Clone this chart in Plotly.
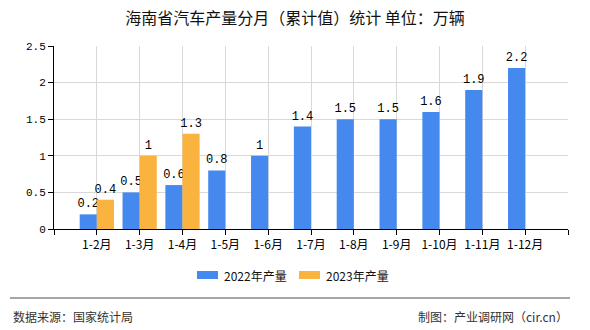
import plotly.graph_objects as go

categories = ["1-2月", "1-3月", "1-4月", "1-5月", "1-6月", "1-7月", "1-8月", "1-9月", "1-10月", "1-11月", "1-12月"]
values_2022 = [0.2, 0.5, 0.6, 0.8, 1, 1.4, 1.5, 1.5, 1.6, 1.9, 2.2]
values_2023 = [0.4, 1, 1.3]
series_names = ["2022年产量", "2023年产量"]
series_colors = ["#4589EF", "#FBB33F"]
y_ticks = [0, 0.5, 1, 1.5, 2, 2.5]

W, H = 590, 330
L, R, T, B = 54, 22, 46, 101
pw = W - L - R
ph = H - T - B

def px(xpix):
    return (xpix - L) / pw

def py(ypix):
    return (H - B - ypix) / ph

pos22 = list(range(1, len(values_2022) + 1))
pos23 = list(range(1, len(values_2023) + 1))

num_font = dict(family="Liberation Mono, DejaVu Sans Mono, monospace", size=12, color="#000")
tick_font = dict(family="Liberation Mono, DejaVu Sans Mono, monospace", size=11, color="#000")
cjk = "Noto Sans CJK SC, sans-serif"

fig = go.Figure()
fig.add_trace(go.Bar(
    x=pos22, y=values_2022, name=series_names[0], width=0.4, offset=-0.4,
    marker=dict(color=series_colors[0], line=dict(width=0)),
    text=[f"{v:g}" for v in values_2022], textposition="outside",
    textfont=num_font, cliponaxis=False, constraintext="none",
))
fig.add_trace(go.Bar(
    x=pos23, y=values_2023, name=series_names[1], width=0.4, offset=0,
    marker=dict(color=series_colors[1], line=dict(width=0)),
    text=[f"{v:g}" for v in values_2023], textposition="outside",
    textfont=num_font, cliponaxis=False, constraintext="none",
))

shapes = [dict(type="line", xref="paper", yref="paper",
               x0=px(10), x1=px(570), y0=py(298), y1=py(298),
               line=dict(color="#888", width=1.5))]
annotations = [
    dict(text="数据来源：国家统计局", xref="paper", yref="paper",
         x=px(11), y=py(316), xanchor="left", yanchor="middle",
         showarrow=False, font=dict(family=cjk, size=12, color="#333")),
    dict(text="制图：产业调研网（cir.cn）", xref="paper", yref="paper",
         x=px(570), y=py(316), xanchor="right", yanchor="middle",
         showarrow=False, font=dict(family=cjk, size=12, color="#333")),
]
# manual legend
legend_x = [197, 299]
for name, color, lx in zip(series_names, series_colors, legend_x):
    shapes.append(dict(type="rect", xref="paper", yref="paper",
                       x0=px(lx), x1=px(lx + 21), y0=py(279), y1=py(271),
                       fillcolor=color, line=dict(width=0)))
    annotations.append(dict(text=name, xref="paper", yref="paper",
                            x=px(lx + 25), y=py(275), xanchor="left", yanchor="middle",
                            showarrow=False, font=dict(family=cjk, size=12, color="#111")))

fig.update_layout(
    width=W, height=H,
    margin=dict(l=L, r=R, t=T, b=B),
    paper_bgcolor="white", plot_bgcolor="white",
    barmode="overlay",
    title=dict(text="海南省汽车产量分月（累计值）统计 单位：万辆", x=0.5, xanchor="center",
               y=1 - 18 / H, yanchor="middle",
               font=dict(family=cjk, size=16, color="#111")),
    showlegend=False,
    xaxis=dict(
        range=[0, len(categories) + 1],
        tickmode="array",
        tickvals=list(range(0, len(categories) + 2)),
        ticktext=[""] + categories + [""],
        showgrid=True, gridcolor="#d9d9d9", gridwidth=1,
        showline=True, linecolor="#000", linewidth=1,
        ticks="outside", ticklen=5, tickcolor="#000",
        tickfont=dict(family=cjk, size=12, color="#000"),
        zeroline=False, fixedrange=True,
    ),
    yaxis=dict(
        range=[0, 2.5],
        tickmode="array", tickvals=y_ticks, ticktext=[f"{v:g}" for v in y_ticks],
        showgrid=True, gridcolor="#d9d9d9", gridwidth=1,
        showline=True, linecolor="#000", linewidth=1,
        ticks="outside", ticklen=5, tickcolor="#000",
        tickfont=tick_font, zeroline=False, fixedrange=True,
    ),
    shapes=shapes,
    annotations=annotations,
)

fig.write_html("out.html")
